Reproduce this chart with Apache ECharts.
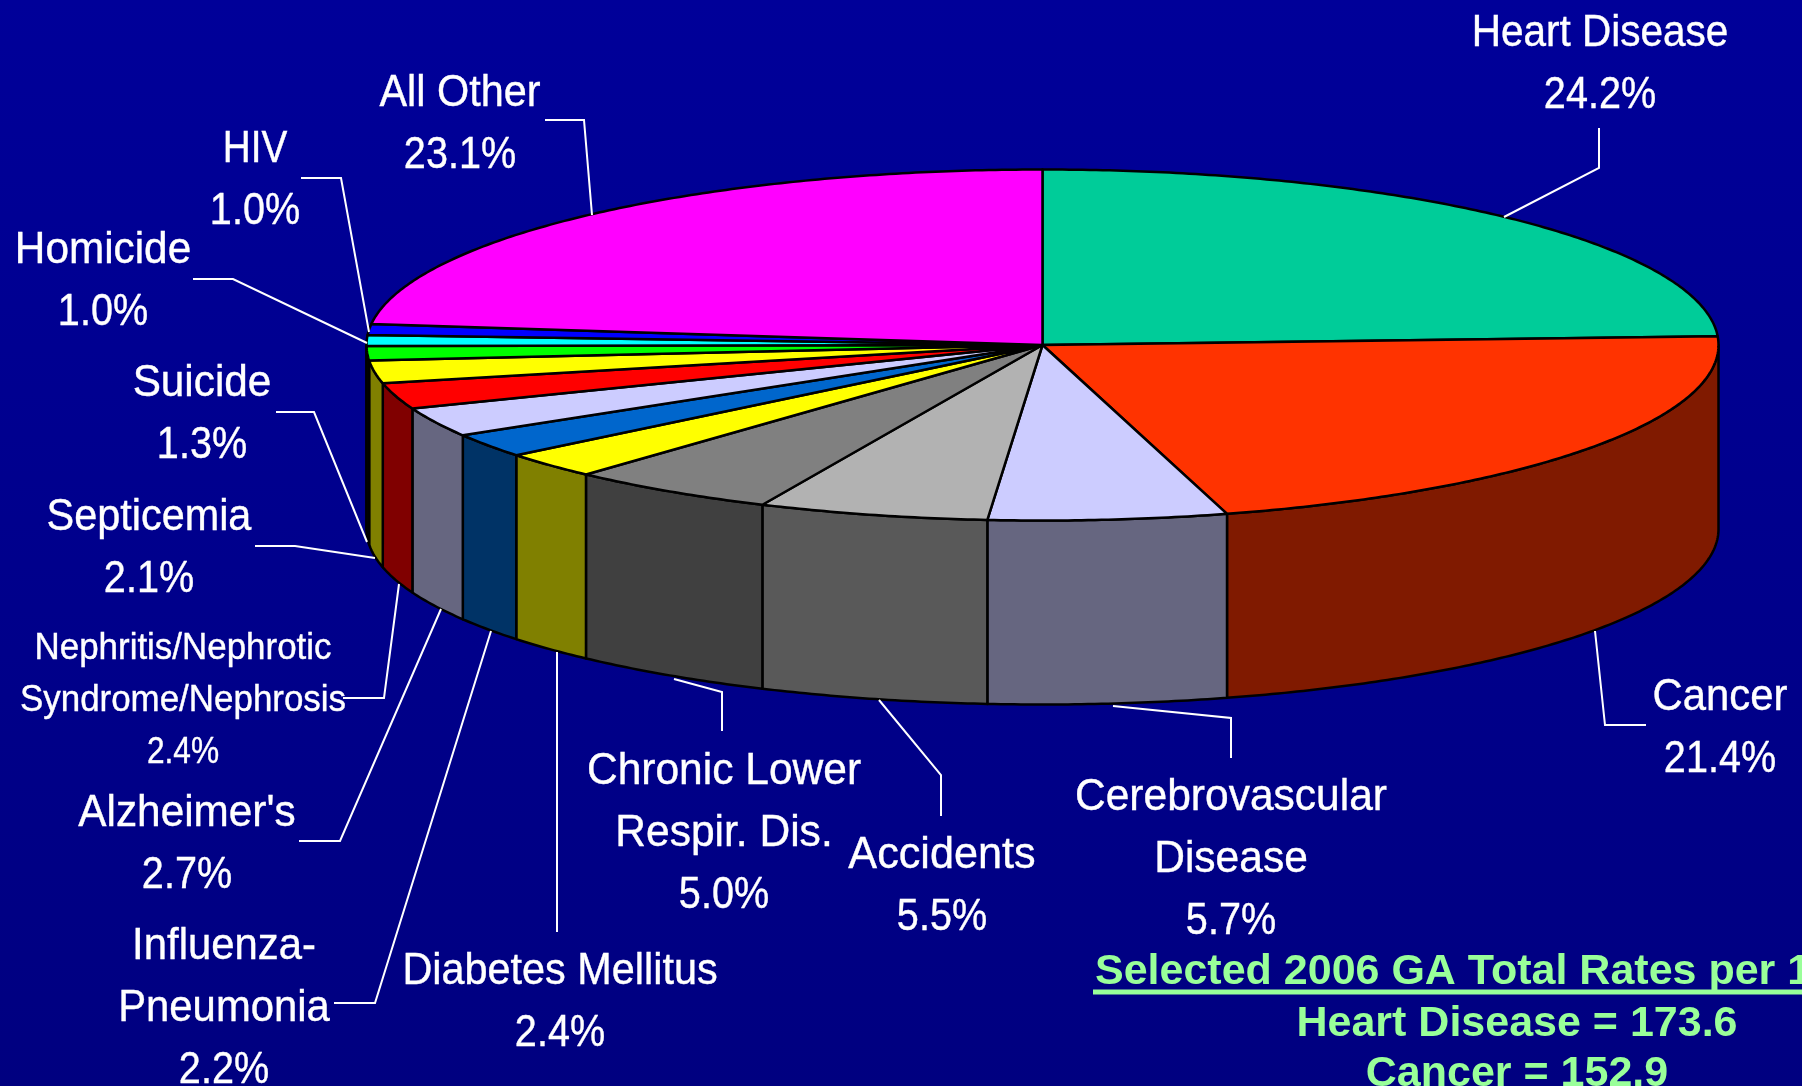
<!DOCTYPE html>
<html>
<head>
<meta charset="utf-8">
<title>Leading causes of death</title>
<style>
  html, body { margin: 0; padding: 0; background: #000090; overflow: hidden; }
  #chart { width: 1802px; height: 1086px; }
</style>
<script src="https://cdn.jsdelivr.net/npm/echarts@6/dist/echarts.min.js"></script>
</head>
<body>
<div id="chart"></div>
<script>
// values, in percent, clockwise from 12 o'clock
var categories = ['Heart Disease', 'Cancer', 'Cerebrovascular\nDisease', 'Accidents', 'Chronic Lower\nRespir. Dis.',
  'Diabetes Mellitus', 'Influenza-\nPneumonia', "Alzheimer's", 'Nephritis/Nephrotic\nSyndrome/Nephrosis',
  'Septicemia', 'Suicide', 'Homicide', 'HIV', 'All Other']
var percents = [24.2, 21.4, 5.7, 5.5, 5.0, 2.4, 2.2, 2.7, 2.4, 2.1, 1.3, 1.0, 1.0, 23.1]
var topColors = ['#00CC99', '#FF3300', '#CCCCFF', '#B2B2B2', '#808080', '#FFFF00', '#0066CC', '#CCCCFF', '#FF0000',
  '#FFFF00', '#00FF00', '#00FFFF', '#0000FF', '#FF00FF']
var sideColors = ['#00664C', '#801A00', '#666680', '#595959', '#404040', '#808000', '#003366', '#666680', '#800000',
  '#808000', '#008000', '#008080', '#000080', '#800080']
var noteTitle = 'Selected 2006 GA Total Rates per 100,000'
var noteLines = ['Heart Disease = 173.6', 'Cancer = 152.9']

// pie geometry
var cx = 1042.5
var cy = 345
var rx = 676
var ry = 175.5
var depth = 184

// label block centres, squeeze of the name text and leader lines, same order as categories
var labelCenters = [[1600, 65], [1720, 729], [1231, 860], [942, 887], [724, 834], [560, 1003], [224, 1009],
  [187, 845], [183, 701], [149, 549], [202, 415], [103, 282], [255, 181], [460, 125]]
var nameScales = [0.9, 0.93, 0.945, 0.96, 0.945, 0.92, 0.93, 0.94, 0.97, 0.92, 0.94, 0.94, 0.86, 0.92]
var leaders = [
  [[1599, 128], [1599, 168], [1504, 217]],
  [[1595, 631], [1605, 725], [1646, 725]],
  [[1113, 706], [1231, 718], [1231, 758]],
  [[879, 700], [941, 775], [941, 816]],
  [[674, 679], [722, 692], [722, 731]],
  [[557, 652], [557, 932]],
  [[491, 631], [375, 1003], [334, 1003]],
  [[441, 609], [340, 841], [299, 841]],
  [[399, 584], [384, 698], [343, 698]],
  [[375, 558], [295, 546], [255, 546]],
  [[367, 542], [314, 412], [276, 412]],
  [[367, 343], [233, 279], [193, 279]],
  [[369, 332], [341, 178], [301, 178]],
  [[592, 215], [584, 120], [545, 120]]
]

var total = percents.reduce(function (a, b) { return a + b }, 0)

function startAngle (i) {
  var sum = 0
  for (var k = 0; k < i; k++) sum += percents[k]
  return sum / total * Math.PI * 2
}

function rimPoint (a, dy) {
  return [cx + rx * Math.sin(a), cy - ry * Math.cos(a) + dy]
}

function arcPoints (a0, a1, dy) {
  var steps = Math.max(2, Math.ceil((a1 - a0) / 0.01))
  var pts = []
  for (var s = 0; s <= steps; s++) pts.push(rimPoint(a0 + (a1 - a0) * s / steps, dy))
  return pts
}

function renderSide (params) {
  var i = params.dataIndex
  // only the front half of the rim can be seen
  var a0 = Math.max(startAngle(i), Math.PI / 2)
  var a1 = Math.min(startAngle(i + 1), Math.PI * 1.5)
  if (a1 <= a0) return
  return {
    type: 'polygon',
    shape: { points: arcPoints(a0, a1, 0).concat(arcPoints(a0, a1, depth).reverse()) },
    style: { fill: sideColors[i], stroke: '#000', lineWidth: 2.5, lineJoin: 'round' }
  }
}

function renderTop (params) {
  var i = params.dataIndex
  return {
    type: 'polygon',
    shape: { points: [[cx, cy]].concat(arcPoints(startAngle(i), startAngle(i + 1), 0)) },
    style: { fill: topColors[i], stroke: '#000', lineWidth: 2.5, lineJoin: 'round' }
  }
}

function renderLabel (params) {
  var i = params.dataIndex
  var small = categories[i].indexOf('Nephritis') === 0
  var size = small ? 36 : 45
  var lineHeight = small ? 52 : 62
  var lines = categories[i].split('\n').concat(percents[i].toFixed(1) + '%')
  var children = [{
    type: 'polyline',
    shape: { points: leaders[i] },
    style: { fill: 'none', stroke: '#fff', lineWidth: 2 }
  }]
  lines.forEach(function (line, k) {
    var isPercent = k === lines.length - 1
    children.push({
      type: 'text',
      x: labelCenters[i][0],
      y: labelCenters[i][1] + (k - (lines.length - 1) / 2) * lineHeight,
      scaleX: isPercent ? 0.88 : nameScales[i],
      style: {
        text: line,
        fill: '#fff',
        stroke: '#fff',
        lineWidth: 0.4,
        font: size + 'px "Liberation Sans", Arial, sans-serif',
        align: 'center',
        verticalAlign: 'middle'
      }
    })
  })
  return { type: 'group', children: children }
}

var noteFont = 'bold 43px "Liberation Sans", Arial, sans-serif'

var option = {
  animation: false,
  backgroundColor: {
    type: 'linear', x: 0, y: 0, x2: 0, y2: 1,
    colorStops: [{ offset: 0, color: '#000099' }, { offset: 1, color: '#000080' }]
  },
  graphic: [
    { type: 'text', x: 1095, y: 994, z: 10, style: { text: noteTitle, fill: '#99FF99', font: noteFont, textAlign: 'left', textVerticalAlign: 'bottom' } },
    { type: 'line', z: 10, shape: { x1: 1093, y1: 992, x2: 1802, y2: 992 }, style: { stroke: '#99FF99', lineWidth: 5 } },
    { type: 'text', x: 1517, y: 1024, z: 10, style: { text: noteLines[0], fill: '#99FF99', font: noteFont, textAlign: 'center', textVerticalAlign: 'middle' } },
    { type: 'text', x: 1517, y: 1074, z: 10, style: { text: noteLines[1], fill: '#99FF99', font: noteFont, textAlign: 'center', textVerticalAlign: 'middle' } }
  ],
  series: [
    { type: 'custom', coordinateSystem: 'none', z: 1, renderItem: renderSide, data: percents, silent: true },
    { type: 'custom', coordinateSystem: 'none', z: 2, renderItem: renderTop, data: percents, silent: true },
    { type: 'custom', coordinateSystem: 'none', z: 3, renderItem: renderLabel, data: percents, silent: true }
  ]
}

var myChart = echarts.init(document.getElementById('chart'))
myChart.setOption(option)
</script>
</body>
</html>
